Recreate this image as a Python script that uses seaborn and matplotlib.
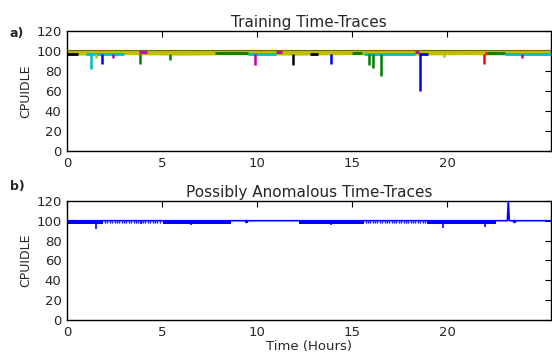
import numpy as np
import pandas as pd
import matplotlib
matplotlib.use("Agg")
import matplotlib.pyplot as plt
import seaborn as sns

# ---- panel a) training traces -------------------------------------------
# dense yellow trace seen as a band
band_time = [0.0, 3.0, 6.0, 9.0, 12.0, 15.0, 18.0, 21.0, 24.0, 25.5]
band_low = [96.0, 96.5, 96.0, 96.5, 96.0, 96.5, 96.0, 96.5, 96.0, 96.0]
band_high = [101.0, 101.0, 101.0, 101.0, 101.0, 101.0, 101.0, 101.0, 101.0, 101.0]

# other traces, visible stretches on top of the band
seg_color = ['c', 'c', 'c', 'c', 'g', 'g', 'g', 'k', 'k', 'm', 'm', 'm', 'r', 'b']
seg_start = [1.0, 9.5, 15.6, 23.0, 7.8, 15.0, 22.1, 0.0, 12.8, 3.8, 11.0, 18.3, 22.0, 18.5]
seg_end = [3.0, 11.0, 18.3, 25.5, 9.5, 15.5, 23.0, 0.6, 13.2, 4.2, 11.3, 18.5, 22.1, 19.0]
seg_level = [97.5, 97.5, 97.5, 97.5, 98.0, 98.0, 98.0, 97.0, 97.0, 99.0, 99.5, 99.0, 98.5, 97.0]

# downward spikes
spike_time = [1.25, 1.5, 1.83, 2.4, 3.84, 5.39, 9.86, 11.88, 13.88, 15.9, 16.1, 16.5, 18.54, 19.8, 21.9, 23.9]
spike_low = [82, 93, 87, 93, 87, 91, 86, 86, 87, 86, 83, 75, 60, 94, 87, 93]
spike_color = ['c', 'y', 'b', 'm', 'g', 'g', 'm', 'k', 'b', 'g', 'g', 'g', 'b', 'y', 'r', 'm']

# ---- panel b) possibly anomalous trace ----------------------------------
base_time = [0.0, 23.15, 23.2, 23.25, 25.5]
base_value = [100, 100, 120, 100, 100]

dense_start = [0.0, 5.05, 12.2, 18.95]
dense_end = [1.9, 8.6, 15.6, 22.55]
dense_low = [97.0, 96.5, 96.5, 96.5]

sparse_ticks = [2.0, 2.12, 2.25, 2.38, 2.5, 2.62, 2.75, 2.88, 3.0, 3.12, 3.25, 3.38,
                3.5, 3.62, 3.75, 3.88, 4.0, 4.12, 4.25, 4.38, 4.5, 4.62, 4.75, 4.88,
                15.7, 15.82, 15.95, 16.08, 16.2, 16.32, 16.45, 16.58, 16.7, 16.82,
                16.95, 17.08, 17.2, 17.32, 17.45, 17.58, 17.7, 17.82, 17.95, 18.08,
                18.2, 18.32, 18.45, 18.58, 18.7, 18.82]
sparse_low = 98.0

dip_time = [1.5, 3.9, 6.5, 13.9, 19.75, 22.0]
dip_low = [92, 97, 96, 96, 93, 94]

xticks = [0, 5, 10, 15, 20]
yticks = [0, 20, 40, 60, 80, 100, 120]

sns.set_style("white")
plt.rcParams['font.family'] = ['DejaVu Sans']

fig = plt.figure(figsize=(5.52, 3.58), dpi=100)
ax1 = fig.add_axes([0.1214, 0.578, 0.877, 0.335])
ax2 = fig.add_axes([0.1214, 0.106, 0.877, 0.333])

# panel a
ax1.fill_between(band_time, band_low, band_high, color='y', lw=0, zorder=2)
sns.lineplot(x=band_time, y=band_high, color='#6b6b00', lw=0.8, ax=ax1, zorder=3)
ax1.hlines(seg_level, seg_start, seg_end, colors=seg_color, lw=2.0, zorder=4)
ax1.vlines(spike_time, spike_low, 97, colors=spike_color, lw=1.8, zorder=5)

# panel b
for s, e, lo in zip(dense_start, dense_end, dense_low):
    ax2.fill_between([s, e], [lo, lo], [100, 100], color='b', lw=0, zorder=2)
ax2.vlines(sparse_ticks, sparse_low, 100, colors='b', lw=1.0, zorder=2)
ax2.vlines(dip_time, dip_low, 100, colors='b', lw=1.2, zorder=2)
df_b = pd.DataFrame({'t': base_time, 'v': base_value})
sns.lineplot(data=df_b, x='t', y='v', color='b', lw=1.2, ax=ax2, zorder=3)
ax2.plot([9.4, 23.5], [100, 100], 'b.', ms=3)

titles = ['Training Time-Traces', 'Possibly Anomalous Time-Traces']
for ax, title in zip([ax1, ax2], titles):
    ax.set_xlim(0, 25.45)
    ax.set_ylim(0, 120)
    ax.set_xticks(xticks)
    ax.set_yticks(yticks)
    ax.tick_params(direction='in', top=True, right=True, length=4,
                   labelsize=9.5, pad=4, color='k')
    for sp in ax.spines.values():
        sp.set_color('k')
        sp.set_linewidth(1.0)
    ax.set_title(title, fontsize=11, pad=3)
    ax.set_ylabel('CPUIDLE', fontsize=9, labelpad=3)
    ax.set_xlabel('')

ax2.set_xlabel('Time (Hours)', fontsize=9.5, labelpad=1)

fig.text(0.018, 0.897, 'a)', fontsize=9, fontweight='bold')
fig.text(0.018, 0.468, 'b)', fontsize=9, fontweight='bold')

fig.savefig('out.png', dpi=100, facecolor='white')
